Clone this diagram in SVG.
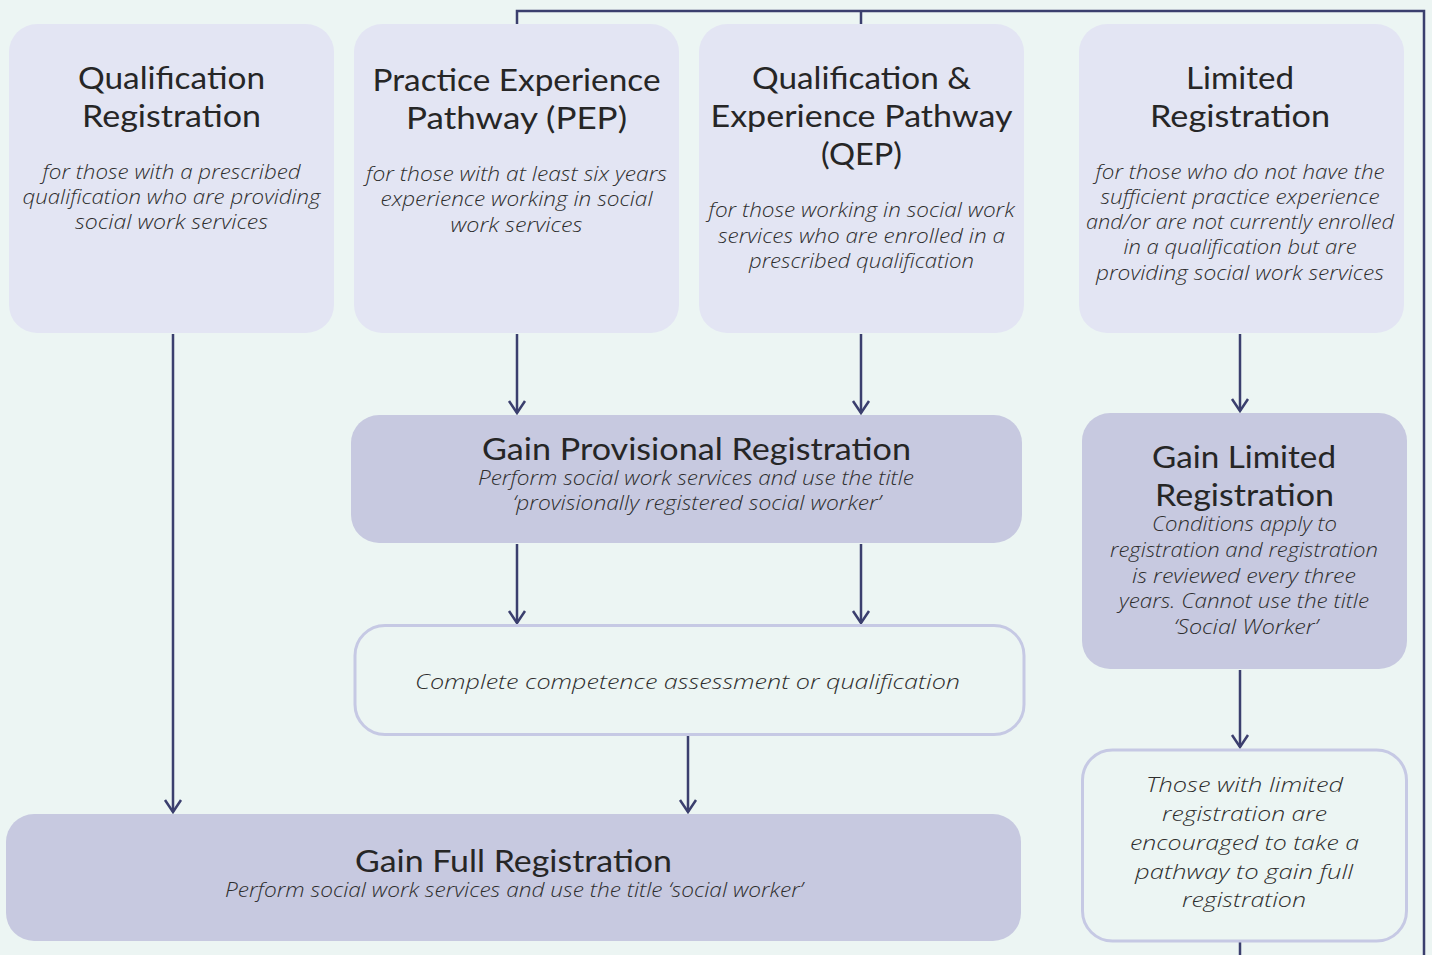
<svg xmlns="http://www.w3.org/2000/svg" width="1432" height="955" viewBox="0 0 1432 955">
  <defs>
    <style>
      .bg { fill: #ecf5f3; }
      .light { fill: #e3e5f3; }
      .dark { fill: #c7c9e0; }
      .outline { fill: #ecf5f3; stroke: #c6c9e4; stroke-width: 3; }
      .title { font-family: Lato, "Noto Sans", sans-serif; font-size: 30px; fill: #262626; text-anchor: middle; }
      .sub { font-family: "Open Sans", "Noto Sans", sans-serif; font-style: italic; font-weight: 300; font-size: 20px; fill: #2e2e2e; text-anchor: middle; }
      .conn { fill: none; stroke: #3b3f6e; stroke-width: 2.5; }
    </style>
    <marker id="arrow" markerUnits="userSpaceOnUse" markerWidth="20" markerHeight="20" viewBox="-10 -16 20 20" refX="0" refY="0" orient="auto" overflow="visible">
      <path d="M-12,-8 L0,0 L-12,8" fill="none" stroke="#3b3f6e" stroke-width="2.5"/>
    </marker>
  </defs>

  <rect class="bg" x="0" y="0" width="1432" height="955"/>

  <!-- connectors -->
  <g id="connectors">
    <path class="conn" d="M1240,942 V956"/>
    <path class="conn" d="M1424,956 V11 H517 V25"/>
    <path class="conn" d="M861,11 V25"/>
    <path class="conn" d="M173,334 V812" marker-end="url(#arrow)"/>
    <path class="conn" d="M517,334 V413" marker-end="url(#arrow)"/>
    <path class="conn" d="M861,334 V413" marker-end="url(#arrow)"/>
    <path class="conn" d="M1240,334 V411" marker-end="url(#arrow)"/>
    <path class="conn" d="M517,544 V623" marker-end="url(#arrow)"/>
    <path class="conn" d="M861,544 V623" marker-end="url(#arrow)"/>
    <path class="conn" d="M688,736 V812" marker-end="url(#arrow)"/>
    <path class="conn" d="M1240,670 V747" marker-end="url(#arrow)"/>
  </g>

  <!-- top row -->
  <g id="qualification-registration">
    <rect class="light" x="9" y="24" width="325" height="309" rx="28"/>
    <text class="title" x="171.5" y="89" textLength="187" lengthAdjust="spacingAndGlyphs">Qualification</text>
    <text class="title" x="171.5" y="127" textLength="179" lengthAdjust="spacingAndGlyphs">Registration</text>
    <text class="sub" x="171.5" y="179" textLength="258" lengthAdjust="spacingAndGlyphs">for those with a prescribed</text>
    <text class="sub" x="171.5" y="204" textLength="298" lengthAdjust="spacingAndGlyphs">qualification who are providing</text>
    <text class="sub" x="171.5" y="229" textLength="193" lengthAdjust="spacingAndGlyphs">social work services</text>
  </g>

  <g id="practice-experience-pathway">
    <rect class="light" x="354" y="24" width="325" height="309" rx="28"/>
    <text class="title" x="516.5" y="91" textLength="288" lengthAdjust="spacingAndGlyphs">Practice Experience</text>
    <text class="title" x="516.5" y="129" textLength="221" lengthAdjust="spacingAndGlyphs">Pathway (PEP)</text>
    <text class="sub" x="516.5" y="181" textLength="301" lengthAdjust="spacingAndGlyphs">for those with at least six years</text>
    <text class="sub" x="516.5" y="206" textLength="272" lengthAdjust="spacingAndGlyphs">experience working in social</text>
    <text class="sub" x="516.5" y="232" textLength="132" lengthAdjust="spacingAndGlyphs">work services</text>
  </g>

  <g id="qualification-experience-pathway">
    <rect class="light" x="699" y="24" width="325" height="309" rx="28"/>
    <text class="title" x="861.5" y="89" textLength="219" lengthAdjust="spacingAndGlyphs">Qualification &amp;</text>
    <text class="title" x="861.5" y="127" textLength="302" lengthAdjust="spacingAndGlyphs">Experience Pathway</text>
    <text class="title" x="861.5" y="165" textLength="81" lengthAdjust="spacingAndGlyphs">(QEP)</text>
    <text class="sub" x="861.5" y="217" textLength="306" lengthAdjust="spacingAndGlyphs">for those working in social work</text>
    <text class="sub" x="861.5" y="243" textLength="287" lengthAdjust="spacingAndGlyphs">services who are enrolled in a</text>
    <text class="sub" x="861.5" y="268" textLength="225" lengthAdjust="spacingAndGlyphs">prescribed qualification</text>
  </g>

  <g id="limited-registration">
    <rect class="light" x="1079" y="24" width="325" height="309" rx="28"/>
    <text class="title" x="1240" y="89" textLength="108" lengthAdjust="spacingAndGlyphs">Limited</text>
    <text class="title" x="1240" y="127" textLength="180" lengthAdjust="spacingAndGlyphs">Registration</text>
    <text class="sub" x="1240" y="179" textLength="289" lengthAdjust="spacingAndGlyphs">for those who do not have the</text>
    <text class="sub" x="1240" y="204" textLength="279" lengthAdjust="spacingAndGlyphs">sufficient practice experience</text>
    <text class="sub" x="1240" y="229" textLength="308" lengthAdjust="spacingAndGlyphs">and/or are not currently enrolled</text>
    <text class="sub" x="1240" y="254" textLength="233" lengthAdjust="spacingAndGlyphs">in a qualification but are</text>
    <text class="sub" x="1240" y="280" textLength="288" lengthAdjust="spacingAndGlyphs">providing social work services</text>
  </g>

  <!-- middle row -->
  <g id="gain-provisional-registration">
    <rect class="dark" x="351" y="415" width="671" height="128" rx="28"/>
    <text class="title" x="696.5" y="460" textLength="429" lengthAdjust="spacingAndGlyphs">Gain Provisional Registration</text>
    <text class="sub" x="696" y="485" textLength="436" lengthAdjust="spacingAndGlyphs">Perform social work services and use the title</text>
    <text class="sub" x="697" y="510" textLength="368" lengthAdjust="spacingAndGlyphs">‘provisionally registered social worker’</text>
  </g>

  <g id="gain-limited-registration">
    <rect class="dark" x="1082" y="413" width="325" height="256" rx="28"/>
    <text class="title" x="1244" y="468" textLength="184" lengthAdjust="spacingAndGlyphs">Gain Limited</text>
    <text class="title" x="1244.5" y="506" textLength="179" lengthAdjust="spacingAndGlyphs">Registration</text>
    <text class="sub" x="1244.5" y="531" textLength="185" lengthAdjust="spacingAndGlyphs">Conditions apply to</text>
    <text class="sub" x="1244" y="557" textLength="268" lengthAdjust="spacingAndGlyphs">registration and registration</text>
    <text class="sub" x="1244" y="583" textLength="224" lengthAdjust="spacingAndGlyphs">is reviewed every three</text>
    <text class="sub" x="1244" y="608" textLength="250" lengthAdjust="spacingAndGlyphs">years. Cannot use the title</text>
    <text class="sub" x="1246" y="634" textLength="144" lengthAdjust="spacingAndGlyphs">‘Social Worker’</text>
  </g>

  <g id="complete-assessment">
    <rect class="outline" x="355" y="625.5" width="669" height="109" rx="30"/>
    <text class="sub" x="687.5" y="689" font-size="22.5" textLength="545" lengthAdjust="spacingAndGlyphs">Complete competence assessment or qualification</text>
  </g>

  <!-- bottom row -->
  <g id="limited-encouraged">
    <rect class="outline" x="1082.5" y="750" width="324" height="191" rx="30"/>
    <text class="sub" x="1244.5" y="792" font-size="22.5" textLength="197" lengthAdjust="spacingAndGlyphs">Those with limited</text>
    <text class="sub" x="1244.5" y="821" font-size="22.5" textLength="165" lengthAdjust="spacingAndGlyphs">registration are</text>
    <text class="sub" x="1244.5" y="850" font-size="22.5" textLength="229" lengthAdjust="spacingAndGlyphs">encouraged to take a</text>
    <text class="sub" x="1244" y="879" font-size="22.5" textLength="218" lengthAdjust="spacingAndGlyphs">pathway to gain full</text>
    <text class="sub" x="1244" y="907" font-size="22.5" textLength="124" lengthAdjust="spacingAndGlyphs">registration</text>
  </g>

  <g id="gain-full-registration">
    <rect class="dark" x="6" y="814" width="1015" height="127" rx="28"/>
    <text class="title" x="513.5" y="872" textLength="317" lengthAdjust="spacingAndGlyphs">Gain Full Registration</text>
    <text class="sub" x="514" y="897" textLength="578" lengthAdjust="spacingAndGlyphs">Perform social work services and use the title ‘social worker’</text>
  </g>
</svg>
